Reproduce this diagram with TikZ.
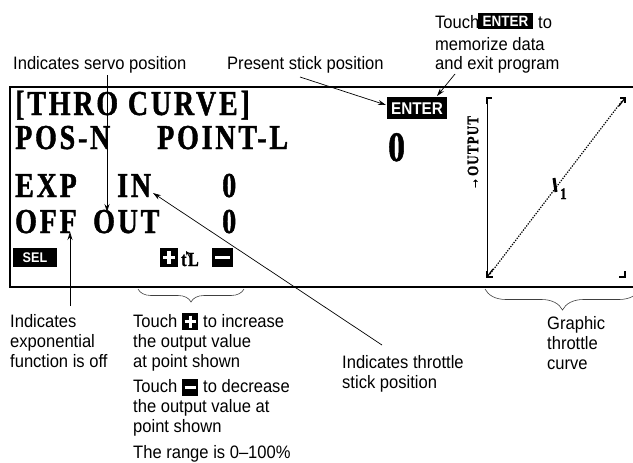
\documentclass[tikz,border=0pt]{standalone}
\usepackage{fontspec}
\setmainfont{Liberation Sans}[FakeStretch=0.92]
\newfontfamily\lcdfont{Liberation Serif}[FakeStretch=0.8,LetterSpace=8,FakeBold=1.2,UprightFont=* Bold]
\newfontfamily\keyfont{Liberation Sans}[FakeStretch=0.9,UprightFont=* Bold]
\usetikzlibrary{arrows.meta,decorations.pathreplacing}
\tikzset{
  lbl/.style={font=\fontsize{18}{20}\selectfont, inner sep=0pt, anchor=base west, align=left},
  lcd/.style={font=\lcdfont\fontsize{35}{35}\selectfont, inner sep=0pt, anchor=base west},
  keybox/.style={fill=black, draw=none},
  keytext/.style={text=white, font=\keyfont\fontsize{14}{14}\selectfont, inner sep=0pt},
  conn/.style={line width=0.7pt, -{Stealth[length=8pt,width=5pt]}},
  bracestyle/.style={line width=0.6pt, draw=black!75, decorate},
  whitebar/.style={draw=white, line width=3.5pt},
  corner/.style={line width=2.2pt},
}
\begin{document}
\begin{tikzpicture}[x=1pt,y=-1pt]
\useasboundingbox (0,0) rectangle (633,463);
\clip (0,0) rectangle (633,463);

% screen frame
\draw[line width=2.5pt] (640,87) -- (10,87) -- (10,287) -- (640,287);

% LCD texts
\node[lcd] (title) at (15,115) {[THRO CURVE]};
\node[lcd] (posn) at (15,149) {POS-N};
\node[lcd] (pointl) at (157,149) {POINT-L};
\node[lcd, font=\lcdfont\fontsize{42}{42}\selectfont] (zero1) at (388,161) {0};
\node[lcd] (exp) at (15,197) {EXP};
\node[lcd] (in) at (117,197) {IN};
\node[lcd] (zero2) at (222,197) {0};
\node[lcd] (off) at (15,233) {OFF};
\node[lcd] (out) at (93,233) {OUT};
\node[lcd] (zero3) at (222,233) {0};

% ENTER key on screen
\fill[keybox] (387,97) rectangle (447,119);
\node[keytext, font=\keyfont\fontsize{17}{17}\selectfont] (enterscr) at (417,108.5) {ENTER};

% SEL key
\fill[keybox] (13,248) rectangle (57,267);
\node[keytext] (sel) at (35,257.5) {SEL};

% plus / TL / minus
\fill[keybox] (160,248) rectangle (178,267);
\draw[whitebar] (163,257.5) -- (175,257.5);
\draw[whitebar] (169,251) -- (169,264);
\node[font=\lcdfont\fontsize{20}{20}\selectfont, inner sep=0pt, anchor=base west] (tl) at (181,266) {tL};
\draw[line width=0.9pt, -{Stealth[length=4pt,width=4pt]}] (191,259) -- (186,251);
\fill[keybox] (212,248) rectangle (233,267);
\draw[whitebar] (215,257.5) -- (230,257.5);

% graph
\draw[line width=0.8pt] (487,98) -- (487,277);
\draw[corner] (487,104) -- (487,98) -- (492,98);
\draw[corner] (619,277) -- (625,277) -- (625,271);
\draw[line width=1.2pt, dash pattern=on 1.3pt off 1.3pt] (490,274) -- (622,101);
\draw[corner] (620,98) -- (625,98) -- (625,103);
\draw[line width=1.2pt] (625,98) -- (619,106);
\draw[corner] (487,271) -- (487,277) -- (493,277);
\draw[line width=1.2pt] (487,277) -- (493,269);
\draw[line width=3pt] (554,178) -- (556,192);
\node[font=\lcdfont\fontsize{16}{16}\selectfont, inner sep=0pt, anchor=base west] (one) at (560,199) {1};
\node[font=\lcdfont\fontsize{16}{16}\selectfont, inner sep=0pt, rotate=90] (outlbl) at (473,153) {→OUTPUT};

% top labels
\node[lbl] (servo) at (13,70) {Indicates servo position};
\node[lbl] (present) at (227,70) {Present stick position};
\node[lbl] (touchE) at (435,28) {Touch};
\fill[keybox] (478,13) rectangle (533,29);
\node[keytext, font=\keyfont\fontsize{15}{15}\selectfont] (enterkey) at (505.5,21) {ENTER};
\node[lbl] (toE) at (538,28) {to};
\node[lbl] (memo) at (435,70) {memorize data\\and exit program};

% bottom labels (base anchor = last line's baseline)
\node[lbl] (expoff) at (10,367) {Indicates\\exponential\\function is off};
\node[lbl] (touchP) at (133,327) {Touch};
\fill[keybox] (182,313) rectangle (198,330);
\draw[whitebar, line width=3pt] (184.5,321.5) -- (195.5,321.5);
\draw[whitebar, line width=3pt] (190,315.5) -- (190,327.5);
\node[lbl] (inc) at (203,327) {to increase};
\node[lbl] (incb) at (133,367) {the output value\\at point shown};
\node[lbl] (touchM) at (133,392) {Touch};
\fill[keybox] (182,379) rectangle (198,396);
\draw[whitebar, line width=3pt] (184.5,387.5) -- (195.5,387.5);
\node[lbl] (dec) at (203,392) {to decrease};
\node[lbl] (decb) at (133,432) {the output value at\\point shown};
\node[lbl] (range) at (133,458) {The range is 0–100\%};
\node[lbl] (thr) at (342,388) {Indicates throttle\\stick position};
\node[lbl] (graphic) at (547,369) {Graphic\\throttle\\curve};

% connectors
\coordinate (sv0) at (107,75);
\coordinate (sv1) at (107,212);
\draw[conn] (sv0) -- (sv1);
\coordinate (ps0) at (300,77);
\coordinate (ps1) at (386,105);
\draw[conn] (ps0) -- (ps1);
\coordinate (te0) at (455,74);
\coordinate (te1) at (437,96);
\draw[conn] (te0) -- (te1);
\coordinate (eo0) at (70,306);
\coordinate (eo1) at (70,232);
\draw[conn] (eo0) -- (eo1);
\coordinate (ts0) at (382,345);
\coordinate (ts1) at (153,193);
\draw[conn] (ts0) -- (ts1);

% braces
\draw[bracestyle, decoration={brace, mirror, amplitude=13pt}] (138,289) -- (244,289);
\draw[bracestyle, decoration={brace, mirror, amplitude=21pt}] (485,289) -- (640,289);
\end{tikzpicture}
\end{document}
